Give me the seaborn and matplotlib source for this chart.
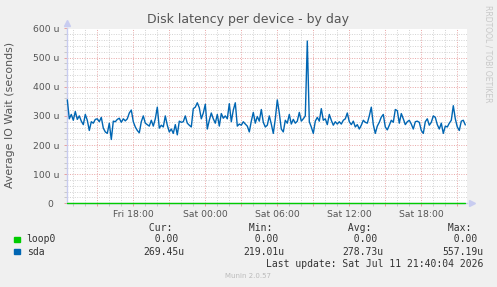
import matplotlib
matplotlib.use("Agg")
import matplotlib.pyplot as plt
import matplotlib.dates as mdates
from matplotlib.ticker import MultipleLocator, FuncFormatter
import numpy as np
import pandas as pd
import seaborn as sns

# ---------------- data ----------------
title = "Disk latency per device - by day"
ylabel = "Average IO Wait (seconds)"
devices = ["loop0", "sda"]
colors = {"loop0": "#00CC00", "sda": "#0066B3"}
start_time = "2026-07-10 12:30"
step = "10min"
sda_u = [
    355, 290, 305, 285, 315, 288, 300, 282, 270, 305,
    285, 250, 280, 275, 288, 290, 280, 295, 258, 245,
    240, 275, 219, 282, 280, 288, 292, 278, 290, 283,
    290, 310, 320, 280, 262, 250, 242, 280, 300, 275,
    270, 265, 285, 265, 290, 330, 258, 268, 262, 300,
    268, 245, 255, 240, 270, 235, 282, 278, 280, 300,
    275, 268, 262, 325, 330, 345, 328, 290, 310, 340,
    255, 285, 310, 290, 275, 305, 265, 308, 292, 300,
    290, 342, 280, 320, 345, 265, 272, 268, 280, 272,
    265, 245, 282, 312, 275, 298, 282, 322, 278, 262,
    268, 300, 272, 240, 290, 355, 310, 255, 245, 285,
    275, 305, 272, 288, 275, 282, 312, 282, 290, 300,
    557, 280, 262, 240, 282, 295, 282, 325, 285, 290,
    270, 305, 285, 268, 280, 272, 280, 272, 285, 290,
    310, 280, 270, 282, 262, 270, 255, 268, 285, 278,
    275, 300, 330, 270, 240, 265, 278, 296, 305, 262,
    252, 268, 285, 278, 322, 318, 275, 308, 290, 270,
    280, 285, 272, 255, 280, 282, 278, 250, 240, 280,
    290, 268, 278, 300, 295, 270, 255, 275, 240, 265,
    262, 275, 285, 335, 290, 262, 250, 282, 285, 269,
]
loop0_u = [0.0] * len(sda_u)
x_start = "2026-07-10 12:27"
x_end = "2026-07-11 21:47"
y_max = 600
col_headers = ["Cur:", "Min:", "Avg:", "Max:"]
loop0_stats = ["0.00", "0.00", "0.00", "0.00"]
sda_stats = ["269.45u", "219.01u", "278.73u", "557.19u"]
last_update = "Last update: Sat Jul 11 21:40:04 2026"
footer = "Munin 2.0.57"
side_text = "RRDTOOL / TOBI OETIKER"

# ---------------- frame ----------------
times = pd.date_range(start_time, periods=len(sda_u), freq=step)
df = pd.DataFrame({
    "time": list(times) * 2,
    "value": loop0_u + sda_u,
    "device": ["loop0"] * len(loop0_u) + ["sda"] * len(sda_u),
})

sns.set_theme(style="white")
plt.rcParams["font.family"] = ["DejaVu Sans"]

W, H = 497, 287
fig = plt.figure(figsize=(W / 100, H / 100), dpi=100, facecolor="#F0F0F0")
L, R, T, B = 66.7, 466.7, 28.5, 203.3
ax = fig.add_axes([L / W, 1 - B / H, (R - L) / W, (B - T) / H])
ax.set_facecolor("white")

sns.lineplot(data=df, x="time", y="value", hue="device", palette=colors,
             hue_order=devices, ax=ax, linewidth=1.0, legend=False, zorder=3)
for line in ax.lines:
    line.set_clip_on(False)

ax.set_xlim(pd.Timestamp(x_start), pd.Timestamp(x_end))
ax.set_ylim(0, y_max)

# grid
ax.xaxis.set_major_locator(mdates.HourLocator(byhour=range(0, 24, 3)))
ax.xaxis.set_minor_locator(mdates.HourLocator())
ax.xaxis.set_major_formatter(FuncFormatter(
    lambda v, p: mdates.num2date(v).strftime("%a %H:%M") if mdates.num2date(v).hour % 6 == 0 else ""))
ax.yaxis.set_major_locator(MultipleLocator(100))
ax.yaxis.set_minor_locator(MultipleLocator(20))
ax.yaxis.set_major_formatter(FuncFormatter(
    lambda v, p: "%d u" % v if v > 0 else "0  "))

ax.grid(which="minor", color="#D2D2D2", linestyle=(0, (1, 1.5)), linewidth=0.7, zorder=1)
ax.grid(which="major", color="#E8A6A6", linestyle=(0, (1, 1.5)), linewidth=0.7, zorder=2)

ax.tick_params(axis="both", which="major", labelsize=6.7, labelcolor="#555555",
               length=2, width=0.7, color="#E8A0A0")
ax.tick_params(axis="both", which="minor", length=2, width=0.7, color="#C8C8C8")
ax.tick_params(axis="x", which="major", pad=2.5)
ax.tick_params(axis="y", which="major", pad=3.0)
ax.tick_params(bottom=True, left=True, which="both")

for s in ["top", "right"]:
    ax.spines[s].set_visible(False)
ax.spines["left"].set_color("#C8CCF0")
ax.spines["left"].set_linewidth(1.0)
ax.spines["bottom"].set_color("#C8CCF0")
ax.spines["bottom"].set_linewidth(1.0)

# axis arrows
ax.plot([0], [1.03], marker="^", markersize=4, color="#C8CCF0",
        transform=ax.transAxes, clip_on=False, zorder=5)
ax.plot([1.012], [0], marker=">", markersize=4, color="#C8CCF0",
        transform=ax.transAxes, clip_on=False, zorder=5)

ax.set_xlabel("")
ax.set_ylabel("")

# texts
fig.text(248 / W, 1 - 19 / H, title, ha="center", va="center", fontsize=9, color="#555555")
fig.text(10.5 / W, 1 - 115 / H, ylabel, ha="center", va="center", rotation=90,
         fontsize=7.9, color="#555555")
fig.text(488 / W, 1 - 54 / H, side_text, ha="center", va="center", rotation=270,
         fontsize=5.5, color="#C8C8C8")

mono = "DejaVu Sans Mono"
col_x = [143, 243, 342, 442]
for cx, hd, a, b in zip(col_x, col_headers, loop0_stats, sda_stats):
    fig.text(cx / W, 1 - 228.3 / H, " " + hd, ha="left", va="center",
             family=mono, fontsize=7, color="#333333")
    fig.text(cx / W, 1 - 239.5 / H, "  " + a, ha="left", va="center",
             family=mono, fontsize=7, color="#333333")
    fig.text(cx / W, 1 - 251.7 / H, b, ha="left", va="center",
             family=mono, fontsize=7, color="#333333")

for name, yy in [("loop0", 239.5), ("sda", 251.7)]:
    fig.patches.append(plt.Rectangle((14 / W, 1 - (yy + 2.5) / H), 5.5 / W, 5.5 / H,
                                     transform=fig.transFigure, color=colors[name]))
    fig.text(26.7 / W, 1 - yy / H, name, ha="left", va="center",
             family=mono, fontsize=7, color="#333333")

fig.text(483.5 / W, 1 - 264 / H, last_update, ha="right", va="center",
         family=mono, fontsize=7, color="#333333")
fig.text(248 / W, 1 - 276 / H, footer, ha="center", va="center",
         fontsize=5, color="#BBBBBB")

fig.savefig("out.png", dpi=100, facecolor=fig.get_facecolor())
